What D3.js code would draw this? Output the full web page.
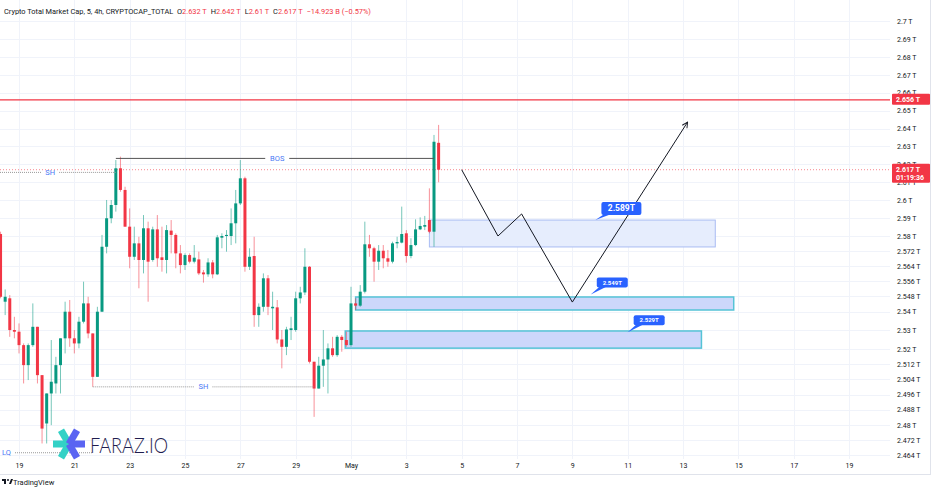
<!DOCTYPE html>
<html>
<head>
<meta charset="utf-8">
<script src="https://d3js.org/d3.v7.min.js"></script>
<style>
  body { margin: 0; background: #fff; }
  svg { display: block; font-family: Roboto, "Noto Sans", sans-serif; }
</style>
</head>
<body>
<div id="container"></div>
<script>
// 4h candles, first one at 2024-04-18 08:00 UTC
const candleStart = Date.UTC(2024, 3, 18, 8);
const opens = [2.5811,2.5452,2.5470,2.5302,2.5293,2.5222,2.5116,2.5222,2.5319,2.5063,
  2.4807,2.4966,2.5019,2.5116,2.5258,2.5399,2.5258,2.5231,2.5346,2.5443,
  2.5284,2.5054,2.5399,2.5743,2.5899,2.5973,2.6178,2.6057,2.5852,2.5690,
  2.5761,2.5673,2.5843,2.5673,2.5837,2.5687,2.5673,2.5830,2.5806,2.5708,
  2.5646,2.5699,2.5664,2.5676,2.5607,2.5597,2.5660,2.5597,2.5791,2.5800,
  2.5800,2.5871,2.5982,2.6122,2.5637,2.5694,2.5381,2.5425,2.5576,2.5417,
  2.5422,2.5252,2.5213,2.5302,2.5302,2.5470,2.5501,2.5637,2.5134,2.4992,
  2.5113,2.5146,2.5205,2.5169,2.5266,2.5249,2.5222,2.5443,2.5431,2.5505,
  2.5756,2.5735,2.5664,2.5722,2.5682,2.5664,2.5761,2.5765,2.5815,2.5694,
  2.5752,2.5837,2.5852,2.5889,2.5824,2.632];
const highs = [2.5824,2.5517,2.5487,2.5372,2.5337,2.5231,2.5231,2.5443,2.5319,2.5063,
  2.4966,2.5249,2.5160,2.5258,2.5452,2.5461,2.5302,2.5372,2.5558,2.5478,
  2.5284,2.5425,2.5806,2.6001,2.6001,2.6224,2.6243,2.6075,2.5954,2.5852,
  2.5796,2.5917,2.5880,2.5852,2.5917,2.5852,2.5861,2.5889,2.5815,2.5752,
  2.5708,2.5708,2.5752,2.5717,2.5620,2.5682,2.5673,2.5806,2.5815,2.5833,
  2.5954,2.6057,2.6224,2.6131,2.5735,2.5796,2.5443,2.5602,2.5593,2.5505,
  2.5461,2.5302,2.5319,2.5372,2.5505,2.5531,2.5735,2.5641,2.5134,2.5160,
  2.5302,2.5231,2.5266,2.5275,2.5275,2.5293,2.5531,2.5470,2.5540,2.5880,
  2.5806,2.5743,2.5752,2.5752,2.5726,2.5770,2.5796,2.5964,2.5833,2.5788,
  2.5893,2.5904,2.5912,2.6066,2.6364,2.642];
const lows = [2.5470,2.5381,2.5266,2.5258,2.5178,2.5019,2.5037,2.5213,2.5019,2.4701,
  2.4701,2.4798,2.4966,2.4966,2.5178,2.5213,2.5178,2.5205,2.5337,2.5258,
  2.5001,2.5054,2.5399,2.5708,2.5871,2.5936,2.6047,2.5852,2.5629,2.5673,
  2.5523,2.5602,2.5452,2.5664,2.5637,2.5611,2.5602,2.5708,2.5629,2.5602,
  2.5620,2.5655,2.5655,2.5593,2.5553,2.5584,2.5576,2.5593,2.5735,2.5717,
  2.5752,2.5761,2.5973,2.5611,2.5620,2.5319,2.5319,2.5399,2.5381,2.5302,
  2.5231,2.5099,2.5169,2.5249,2.5293,2.5443,2.5487,2.5125,2.4842,2.4992,
  2.5001,2.4966,2.5160,2.5160,2.5187,2.5213,2.5213,2.5408,2.5425,2.5496,
  2.5690,2.5558,2.5620,2.5629,2.5637,2.5655,2.5735,2.5761,2.5659,2.5682,
  2.5746,2.5833,2.5833,2.5815,2.5743,2.610];
const closes = [2.5478,2.5478,2.5302,2.5293,2.5222,2.5116,2.5222,2.5319,2.5063,2.4780,
  2.4966,2.5028,2.5116,2.5258,2.5399,2.5258,2.5231,2.5346,2.5443,2.5284,
  2.5054,2.5399,2.5743,2.5899,2.5973,2.6178,2.6057,2.5852,2.5690,2.5761,
  2.5673,2.5843,2.5664,2.5837,2.5682,2.5673,2.5833,2.5806,2.5708,2.5646,
  2.5699,2.5664,2.5685,2.5602,2.5597,2.5660,2.5597,2.5793,2.5800,2.5806,
  2.5871,2.5982,2.6122,2.5637,2.5690,2.5381,2.5425,2.5576,2.5425,2.5425,
  2.5252,2.5213,2.5305,2.5311,2.5470,2.5501,2.5637,2.5134,2.4992,2.5113,
  2.5146,2.5205,2.5169,2.5266,2.5249,2.5222,2.5443,2.5431,2.5505,2.5756,
  2.5735,2.5664,2.5722,2.5682,2.5664,2.5761,2.5768,2.5811,2.5694,2.5752,
  2.5837,2.5856,2.5861,2.5824,2.6326,2.617];

// axes
const priceTicks = [2.7,2.69,2.68,2.67,2.66,2.65,2.64,2.63,2.62,2.61,2.6,2.59,2.58,
  2.572,2.564,2.556,2.548,2.54,2.53,2.52,2.512,2.504,2.496,2.488,2.48,2.472,2.464];
const dateTicks = ["2024-04-19","2024-04-21","2024-04-23","2024-04-25","2024-04-27","2024-04-29",
  "2024-05-01","2024-05-03","2024-05-05","2024-05-07","2024-05-09","2024-05-11","2024-05-13",
  "2024-05-15","2024-05-17","2024-05-19"];

// price lines
const alertPrice = 2.656;
const lastPrice = 2.617;
const countdown = "01:19:36";

// structure marks
const bosLine = { from: "2024-04-22T12:00", to: "2024-05-04T00:00", price: 2.6233, label: "BOS", labelAt: "2024-04-28T08:00" };
const shLines = [
  { from: null, to: "2024-04-22T12:00", price: 2.6155, label: "SH", labelAt: "2024-04-20T03:00" },
  { from: "2024-04-21T16:00", to: "2024-04-29T16:00", price: 2.5001, label: "SH", labelAt: "2024-04-25T16:00" }
];
const lqLine = { to: "2024-04-21T16:00", price: 2.4652, label: "LQ" };

// zones
const zones = [
  { from: "2024-05-03T20:00", to: "2024-05-14T04:00", top: 2.5889, bottom: 2.5742, kind: "light" },
  { from: "2024-05-01T04:00", to: "2024-05-14T20:00", top: 2.5477, bottom: 2.5408, kind: "dark" },
  { from: "2024-04-30T19:00", to: "2024-05-13T16:00", top: 2.5297, bottom: 2.5206, kind: "dark" }
];
const callouts = [
  { text: "2.589T", at: "2024-05-09T20:00", price: 2.589, big: true },
  { text: "2.549T", at: "2024-05-09T16:00", price: 2.549, big: false },
  { text: "2.529T", at: "2024-05-11T00:00", price: 2.529, big: false }
];
const pathTimes = ["2024-05-05T00:00","2024-05-06T07:30","2024-05-07T04:00","2024-05-09T00:00","2024-05-13T04:00"];
const pathPrices = [2.617, 2.58, 2.5923, 2.545, 2.6436];

const width = 936, height = 492;
const plotRight = 890, plotBottom = 459;
const up = "#089981", down = "#f23645";
const blue = "#2962ff";

const svg = d3.create("svg").attr("width", width).attr("height", height);

const x = d3.scaleUtc()
  .domain([new Date("2024-04-19T00:00Z"), new Date("2024-05-19T00:00Z")])
  .range([19, 849]);
const y = d3.scaleLinear().domain([2.7, 2.58, 2.464]).range([21, 236, 455]);
const t = s => new Date(s + "Z");

const candles = opens.map((o, i) => ({
  time: new Date(candleStart + i * 4 * 3600e3), o, h: highs[i], l: lows[i], c: closes[i]
}));

// grid
const grid = svg.append("g");
grid.selectAll(".hg").data(priceTicks).join("line")
  .attr("x1", 0).attr("x2", plotRight)
  .attr("y1", d => Math.round(y(d)) + 0.5).attr("y2", d => Math.round(y(d)) + 0.5)
  .attr("stroke", "#f0f3fa");
grid.selectAll(".vg").data(dateTicks).join("line")
  .attr("x1", d => Math.round(x(t(d + "T00:00"))) + 0.5).attr("x2", d => Math.round(x(t(d + "T00:00"))) + 0.5)
  .attr("y1", 0).attr("y2", plotBottom)
  .attr("stroke", "#f0f3fa");

// frame
svg.append("line").attr("x1", 930.5).attr("x2", 930.5).attr("y1", 0).attr("y2", 474).attr("stroke", "#e0e3eb");
svg.append("line").attr("x1", 0).attr("x2", 931).attr("y1", 474.5).attr("y2", 474.5).attr("stroke", "#e0e3eb");

// alert line
svg.append("line")
  .attr("x1", 0).attr("x2", plotRight)
  .attr("y1", y(alertPrice)).attr("y2", y(alertPrice))
  .attr("stroke", down).attr("stroke-width", 1.2);

// last price dotted line
svg.append("line")
  .attr("x1", 0).attr("x2", plotRight)
  .attr("y1", y(lastPrice)).attr("y2", y(lastPrice))
  .attr("stroke", down).attr("stroke-opacity", 0.6)
  .attr("stroke-dasharray", "1,2");

// zones
const zg = svg.append("g");
zg.selectAll("rect").data(zones).join("rect")
  .attr("x", d => x(t(d.from))).attr("width", d => x(t(d.to)) - x(t(d.from)))
  .attr("y", d => y(d.top)).attr("height", d => y(d.bottom) - y(d.top))
  .attr("fill", d => d.kind === "light" ? "#e6edfd" : "#ccd7fb")
  .attr("stroke", d => d.kind === "light" ? "#a9bcf3" : "#55c3d6")
  .attr("stroke-width", d => d.kind === "light" ? 1 : 1.5);

// candles
const cg = svg.append("g");
cg.selectAll(".wick").data(candles).join("line")
  .attr("x1", d => x(d.time)).attr("x2", d => x(d.time))
  .attr("y1", d => y(d.h)).attr("y2", d => y(d.l))
  .attr("stroke", d => d.c >= d.o ? up : down)
  .attr("stroke-opacity", 0.55);
cg.selectAll(".body").data(candles).join("rect")
  .attr("x", d => x(d.time) - 1.5).attr("width", 3)
  .attr("y", d => y(Math.max(d.o, d.c)))
  .attr("height", d => Math.max(1, Math.abs(y(d.o) - y(d.c))))
  .attr("fill", d => d.c >= d.o ? up : down);

// BOS line
const bosMid = x(t(bosLine.labelAt));
svg.append("line")
  .attr("x1", x(t(bosLine.from))).attr("x2", bosMid - 12)
  .attr("y1", y(bosLine.price)).attr("y2", y(bosLine.price))
  .attr("stroke", "#555").attr("stroke-width", 1);
svg.append("line")
  .attr("x1", bosMid + 12).attr("x2", x(t(bosLine.to)))
  .attr("y1", y(bosLine.price)).attr("y2", y(bosLine.price))
  .attr("stroke", "#555").attr("stroke-width", 1);
svg.append("text")
  .attr("x", bosMid).attr("y", y(bosLine.price)).attr("dy", "0.35em")
  .attr("text-anchor", "middle").attr("font-size", 7.5).attr("fill", "#4a78f5")
  .text(bosLine.label);

// SH lines
shLines.forEach(s => {
  const x0 = s.from ? x(t(s.from)) : 0;
  const x1 = x(t(s.to));
  const xm = x(t(s.labelAt));
  const yy = y(s.price);
  svg.append("line").attr("x1", x0).attr("x2", xm - 9).attr("y1", yy).attr("y2", yy)
    .attr("stroke", "#999").attr("stroke-dasharray", "1,1");
  svg.append("line").attr("x1", xm + 9).attr("x2", x1).attr("y1", yy).attr("y2", yy)
    .attr("stroke", "#999").attr("stroke-dasharray", "1,1");
  svg.append("text").attr("x", xm).attr("y", yy).attr("dy", "0.35em")
    .attr("text-anchor", "middle").attr("font-size", 7.5).attr("fill", "#4a78f5")
    .text(s.label);
});

// LQ line
svg.append("line").attr("x1", 15).attr("x2", x(t(lqLine.to)))
  .attr("y1", y(lqLine.price)).attr("y2", y(lqLine.price))
  .attr("stroke", "#999").attr("stroke-dasharray", "1,1");
svg.append("text").attr("x", 2).attr("y", y(lqLine.price)).attr("dy", "0.35em")
  .attr("font-size", 7.5).attr("fill", "#4a78f5").text(lqLine.label);

// projected path
svg.append("defs").append("marker")
  .attr("id", "arr").attr("viewBox", "0 0 10 10").attr("refX", 9).attr("refY", 5)
  .attr("markerWidth", 7).attr("markerHeight", 7).attr("orient", "auto")
  .append("path").attr("d", "M1,1 L9,5 L1,9").attr("fill", "none").attr("stroke", "#131722").attr("stroke-width", 1.3);
const pathPts = pathTimes.map((d, i) => [x(t(d)), y(pathPrices[i])]);
svg.append("path")
  .attr("d", d3.line()(pathPts))
  .attr("fill", "none").attr("stroke", "#131722").attr("stroke-width", 1)
  .attr("marker-end", "url(#arr)");

// callouts
callouts.forEach(c => {
  const ax = x(t(c.at)), ay = y(c.price);
  const w = c.big ? 40 : 31, h = c.big ? 13 : 10;
  const bx = ax + 6, by = ay - (c.big ? 18 : 17);
  svg.append("path")
    .attr("d", `M${ax},${ay} L${bx + 3},${by + h - 1} L${bx + 10},${by + h - 1} Z`)
    .attr("fill", blue);
  svg.append("rect").attr("x", bx).attr("y", by).attr("width", w).attr("height", h)
    .attr("rx", 2).attr("fill", blue);
  svg.append("text").attr("x", bx + w / 2).attr("y", by + h / 2).attr("dy", "0.36em")
    .attr("text-anchor", "middle").attr("fill", "#fff").attr("font-weight", "bold")
    .attr("font-size", c.big ? 8.5 : 6).text(c.text);
});

// price axis
const yAxis = svg.append("g").attr("transform", `translate(${plotRight},0)`)
  .call(d3.axisRight(y).tickValues(priceTicks).tickSize(0).tickPadding(7).tickFormat(d => d + " T"));
yAxis.select(".domain").remove();
yAxis.selectAll("text").attr("font-size", 7).attr("fill", "#131722").attr("font-family", "Roboto, sans-serif");

// time axis
const xAxis = svg.append("g").attr("transform", `translate(0,${plotBottom})`)
  .call(d3.axisBottom(x).tickValues(dateTicks.map(d => t(d + "T00:00"))).tickSize(0).tickPadding(4)
    .tickFormat(d => d.getUTCDate() === 1 ? "May" : d.getUTCDate()));
xAxis.select(".domain").remove();
xAxis.selectAll("text").attr("font-size", 7).attr("fill", "#131722").attr("font-family", "Roboto, sans-serif");

// price labels on axis
function priceTag(price, lines) {
  const yy = y(price);
  const h = lines.length * 8 + 3;
  svg.append("rect").attr("x", 892).attr("y", yy - 6).attr("width", 38).attr("height", h)
    .attr("rx", 1).attr("fill", down);
  lines.forEach((s, i) => {
    svg.append("text").attr("x", 896).attr("y", yy + i * 8).attr("dy", "0.35em")
      .attr("font-size", 7).attr("font-weight", "bold").attr("fill", "#fff").text(s);
  });
}
priceTag(alertPrice, [alertPrice + " T"]);
priceTag(lastPrice, [lastPrice + " T", countdown]);

// header legend
const hdr = svg.append("text").attr("x", 4).attr("y", 14).attr("font-size", 7.4).attr("fill", "#131722");
hdr.append("tspan").text("Crypto Total Market Cap, 5, 4h, CRYPTOCAP_TOTAL");
[["O", "2.632 T"], ["H", "2.642 T"], ["L", "2.61 T"], ["C", "2.617 T"]].forEach(([k, v]) => {
  hdr.append("tspan").attr("dx", 4).text(k);
  hdr.append("tspan").attr("fill", down).text(v);
});
hdr.append("tspan").attr("dx", 4).attr("fill", down).text("−14.923 B (−0.57%)");

// watermark logo
const logo = svg.append("g").attr("transform", "translate(69,444)");
const arms = [[180, "#33d1c6"], [0, "#5a64f2"], [240, "#33d1c6"], [300, "#5a64f2"], [120, "#33d1c6"], [60, "#5a64f2"]];
arms.forEach(([a, col]) => {
  const r = a * Math.PI / 180;
  logo.append("line").attr("x1", 0).attr("y1", 0)
    .attr("x2", 16 * Math.cos(r)).attr("y2", -16 * Math.sin(r))
    .attr("stroke", col).attr("stroke-width", 7);
});
svg.append("text").attr("x", 90).attr("y", 453).attr("font-family", "Lato, sans-serif")
  .attr("font-size", 22).attr("font-weight", 300).attr("fill", "#1f1d4f")
  .attr("textLength", 78).attr("lengthAdjust", "spacingAndGlyphs")
  .text("FARAZ.IO");

// footer
const tv = svg.append("g").attr("transform", "translate(2,479)");
tv.append("rect").attr("x", 0).attr("y", 0).attr("width", 4).attr("height", 2).attr("fill", "#131722");
tv.append("rect").attr("x", 2).attr("y", 0).attr("width", 2).attr("height", 5).attr("fill", "#131722");
tv.append("circle").attr("cx", 6).attr("cy", 1).attr("r", 1).attr("fill", "#131722");
tv.append("path").attr("d", "M7,5 L9,0 L11,0 L9,5 Z").attr("fill", "#131722");
svg.append("text").attr("x", 13).attr("y", 485).attr("font-size", 7.5).attr("fill", "#131722").text("TradingView");

d3.select("#container").append(() => svg.node());
</script>
</body>
</html>
